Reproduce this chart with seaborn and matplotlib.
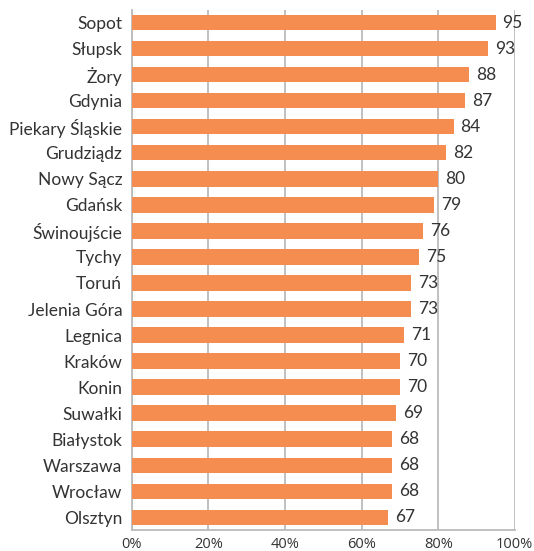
import matplotlib
matplotlib.use("Agg")
import matplotlib.pyplot as plt
import seaborn as sns
import pandas as pd

cities = ["Sopot", "Słupsk", "Żory", "Gdynia", "Piekary Śląskie", "Grudziądz",
          "Nowy Sącz", "Gdańsk", "Świnoujście", "Tychy", "Toruń", "Jelenia Góra",
          "Legnica", "Kraków", "Konin", "Suwałki", "Białystok", "Warszawa",
          "Wrocław", "Olsztyn"]
values = [95, 93, 88, 87, 84, 82, 80, 79, 76, 75, 73, 73, 71, 70, 70, 69, 68, 68, 68, 67]
xticks = [0, 20, 40, 60, 80, 100]
xtick_labels = ["0%", "20%", "40%", "60%", "80%", "100%"]

df = pd.DataFrame({"city": cities, "value": values})

sns.set_style("white")
plt.rcParams['font.family'] = ['Lato', 'DejaVu Sans']

fig = plt.figure(figsize=(5.34, 5.51), dpi=100)
ax = fig.add_axes([0.247, 0.038, 0.717, 0.944])

sns.barplot(data=df, x="value", y="city", color="#F68D50", saturation=1,
            width=0.58, ax=ax, zorder=3, linewidth=0)

ax.set_xlim(0, 100)
ax.set_ylim(len(cities) - 0.5, -0.5)
ax.set_xticks(xticks)
ax.set_xticklabels(xtick_labels, fontsize=10.5, color="#333333", family=['Open Sans', 'DejaVu Sans'])
ax.tick_params(axis="y", labelsize=12.5, colors="#333333", length=0, pad=7)
ax.tick_params(axis="x", length=0, pad=5)
ax.set_xlabel("")
ax.set_ylabel("")
ax.grid(axis="x", color="#BBBBBB", linewidth=1.3, zorder=0)
for s in ["top", "right"]:
    ax.spines[s].set_visible(False)
for s in ["left", "bottom"]:
    ax.spines[s].set_color("#BBBBBB")
    ax.spines[s].set_linewidth(1.3)

for i, v in enumerate(values):
    ax.text(v + 1.8, i, str(v), va="center", ha="left", fontsize=12.5, color="#333333")

fig.savefig("out.png", dpi=100)
